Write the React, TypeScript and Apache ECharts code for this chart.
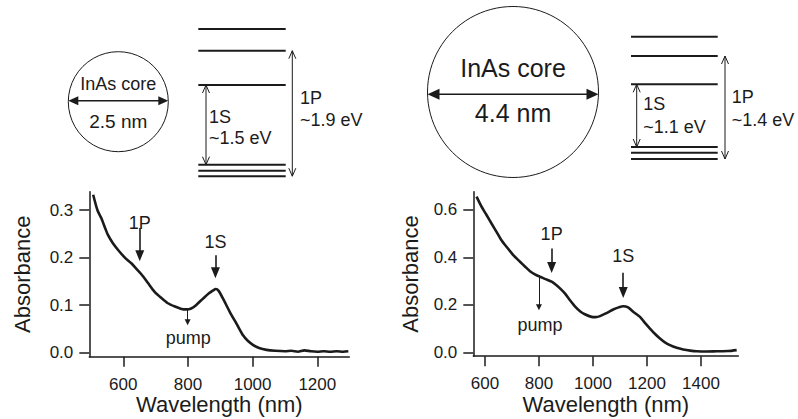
import React, { useEffect, useRef } from "react";
import * as echarts from "echarts";

// ---------- data ----------
const leftWavelength = [507, 520, 532, 545, 553, 568, 584, 605, 625, 640, 656, 676, 697, 718, 738, 760, 780, 796, 810, 825, 847, 865, 878, 886, 895, 909, 930, 951, 971, 985, 1002, 1020, 1043, 1070, 1100, 1120, 1140, 1160, 1180, 1200, 1220, 1240, 1260, 1280, 1296];
const leftAbsorbance = [0.332, 0.300, 0.283, 0.260, 0.247, 0.230, 0.216, 0.200, 0.188, 0.177, 0.165, 0.147, 0.128, 0.115, 0.104, 0.097, 0.092, 0.091, 0.093, 0.100, 0.114, 0.125, 0.131, 0.134, 0.130, 0.113, 0.085, 0.060, 0.036, 0.025, 0.016, 0.010, 0.006, 0.004, 0.003, 0.004, 0.002, 0.005, 0.003, 0.002, 0.003, 0.002, 0.003, 0.002, 0.003];

const rightWavelength = [569, 587, 606, 625, 643, 660, 680, 705, 730, 750, 767, 785, 804, 825, 847, 865, 878, 896, 915, 935, 952, 970, 995, 1010, 1026, 1050, 1075, 1095, 1112, 1130, 1149, 1174, 1190, 1211, 1230, 1248, 1265, 1285, 1310, 1334, 1360, 1384, 1420, 1458, 1500, 1532];
const rightAbsorbance = [0.656, 0.615, 0.579, 0.542, 0.508, 0.475, 0.445, 0.410, 0.382, 0.360, 0.342, 0.329, 0.319, 0.309, 0.298, 0.283, 0.270, 0.249, 0.220, 0.192, 0.174, 0.161, 0.150, 0.149, 0.153, 0.166, 0.181, 0.190, 0.195, 0.190, 0.172, 0.150, 0.128, 0.101, 0.078, 0.059, 0.044, 0.031, 0.020, 0.013, 0.008, 0.005, 0.004, 0.005, 0.006, 0.010];

const leftXTicks = [600, 800, 1000, 1200];
const leftYTicks = [0, 0.1, 0.2, 0.3];
const rightXTicks = [600, 800, 1000, 1200, 1400];
const rightYTicks = [0, 0.2, 0.4, 0.6];

// annotation arrows: [x, yStart, yEnd(head centre)]
const leftArrows = [[651, 0.262, 0.204], [885, 0.205, 0.168]];
const leftPumpArrow = [799, 0.090, 0.064];
const rightArrows = [[847, 0.438, 0.358], [1112, 0.336, 0.253]];
const rightPumpArrow = [800, 0.326, 0.191];
// annotation labels: [text, x, y]
const leftLabels: [string, number, number][] = [["1P", 651, 0.272], ["1S", 885, 0.233], ["pump", 801, 0.030]];
const rightLabels: [string, number, number][] = [["1P", 847, 0.497], ["1S", 1112, 0.406], ["pump", 804, 0.115]];

const coreSizes = ["2.5 nm", "4.4 nm"];
const gap1S = ["~1.5 eV", "~1.1 eV"];
const gap1P = ["~1.9 eV", "~1.4 eV"];

// ---------- styling ----------
const FONT = '"Liberation Sans", Arial, Helvetica, sans-serif';
const INK = "#1b1b1b";

function zip(xs: number[], ys: number[]) {
  return xs.map((x, i) => [x, ys[i]]);
}

function text(x: number, y: number, s: string, size: number, align = "left") {
  return {
    type: "text",
    x,
    y,
    style: { text: s, fontSize: size, fontFamily: FONT, fill: INK, align, verticalAlign: "middle" },
  };
}
function line(x1: number, y1: number, x2: number, y2: number, w: number) {
  return { type: "line", shape: { x1, y1, x2, y2 }, style: { stroke: INK, lineWidth: w } };
}
function hDoubleArrow(x1: number, x2: number, y: number, hl: number, hw: number) {
  return [
    line(x1 + hl - 1, y, x2 - hl + 1, y, 1.6),
    { type: "polygon", shape: { points: [[x1, y], [x1 + hl, y - hw / 2], [x1 + hl, y + hw / 2]] }, style: { fill: INK } },
    { type: "polygon", shape: { points: [[x2, y], [x2 - hl, y - hw / 2], [x2 - hl, y + hw / 2]] }, style: { fill: INK } },
  ];
}
function vOpenArrow(x: number, y1: number, y2: number) {
  return [
    line(x, y1, x, y2, 1),
    { type: "polyline", shape: { points: [[x - 3.5, y1 + 8], [x, y1], [x + 3.5, y1 + 8]] }, style: { stroke: INK, lineWidth: 1, fill: null } },
    { type: "polyline", shape: { points: [[x - 3.5, y2 - 8], [x, y2], [x + 3.5, y2 - 8]] }, style: { stroke: INK, lineWidth: 1, fill: null } },
  ];
}

function diagram(d: any, idx: number) {
  const els: any[] = [];
  els.push({ type: "circle", shape: { cx: d.cx, cy: d.cy, r: d.r }, style: { fill: "none", stroke: INK, lineWidth: 1 } });
  els.push(...hDoubleArrow(d.cx - d.r, d.cx + d.r, d.arrowY, d.hl, d.hw));
  els.push(text(d.cx, d.coreY, "InAs core", d.coreFont, "center"));
  els.push(text(d.cx, d.sizeY, coreSizes[idx], d.sizeFont, "center"));
  d.levels.forEach((y: number) => els.push(line(d.lx1, y, d.lx2, y, 2)));
  els.push(...vOpenArrow(d.sX, d.levels[2], d.levels[3]));
  els.push(...vOpenArrow(d.pX, d.levels[1], d.levels[5]));
  els.push(text(d.sTx, d.sTy1, "1S", 18));
  els.push(text(d.sTx, d.sTy2, gap1S[idx], 18));
  els.push(text(d.pTx, d.pTy1, "1P", 18));
  els.push(text(d.pTx, d.pTy2, gap1P[idx], 18));
  return els;
}

const diagramLeft = {
  cx: 118.3, cy: 101.7, r: 50, arrowY: 100.7, hl: 10, hw: 9,
  coreY: 84, coreFont: 18, sizeY: 121, sizeFont: 19,
  lx1: 198.3, lx2: 285.7, levels: [29, 50.7, 85, 164.7, 170.7, 176.2],
  sX: 206, pX: 292.3, sTx: 209, sTy1: 116.7, sTy2: 138.3, pTx: 300, pTy1: 98.3, pTy2: 120,
};
const diagramRight = {
  cx: 513, cy: 92, r: 85.5, arrowY: 94.3, hl: 12, hw: 11,
  coreY: 67.7, coreFont: 25, sizeY: 113.3, sizeFont: 25,
  lx1: 631, lx2: 717.7, levels: [36.7, 56, 84.3, 147, 152.7, 159],
  sX: 636.7, pX: 725, sTx: 643.3, sTy1: 104.3, sTy2: 126.7, pTx: 731.7, pTy1: 96.7, pTy2: 120,
};

function xAxis(gridIndex: number, min: number, max: number, ticks: number[]) {
  return {
    type: "value",
    gridIndex,
    min,
    max,
    name: "Wavelength (nm)",
    nameLocation: "middle",
    nameGap: 37,
    nameTextStyle: { fontSize: 22, fontFamily: FONT, color: INK },
    axisLine: { onZero: false, lineStyle: { color: INK, width: 1.5 } },
    axisTick: { customValues: ticks, length: 10, lineStyle: { color: INK, width: 1.5 } },
    axisLabel: { customValues: ticks, margin: 19, fontSize: 17, fontFamily: FONT, color: INK, formatter: (v: number) => String(Math.round(v)) },
    splitLine: { show: false },
  };
}
function yAxis(gridIndex: number, min: number, max: number, ticks: number[], gap: number) {
  return {
    type: "value",
    gridIndex,
    min,
    max,
    name: "Absorbance",
    nameLocation: "middle",
    nameGap: gap,
    nameRotate: 90,
    nameTextStyle: { fontSize: 22, fontFamily: FONT, color: INK },
    axisLine: { show: true, onZero: false, lineStyle: { color: INK, width: 1.5 } },
    axisTick: { show: true, customValues: ticks, length: 10, lineStyle: { color: INK, width: 1.5 } },
    axisLabel: { customValues: ticks, margin: 16, fontSize: 17, fontFamily: FONT, color: INK, formatter: (v: number) => v.toFixed(1) },
    splitLine: { show: false },
  };
}

function arrowLines(big: number[][], pump: number[]) {
  const data: any[] = big.map(([x, y1, y2]) => [
    { coord: [x, y1], symbol: "none" },
    { coord: [x, y2], symbol: "triangle", symbolSize: [9, 11], lineStyle: { width: 1.6 } },
  ]);
  data.push([
    { coord: [pump[0], pump[1]], symbol: "none" },
    { coord: [pump[0], pump[2]], symbol: "triangle", symbolSize: [6, 6], lineStyle: { width: 1 } },
  ]);
  return {
    silent: true,
    animation: false,
    symbol: ["none", "triangle"],
    label: { show: false },
    lineStyle: { color: INK, type: "solid", width: 1.6 },
    itemStyle: { color: INK },
    emphasis: { disabled: true },
    data,
  };
}
function labelPoints(labels: [string, number, number][]) {
  return {
    silent: true,
    animation: false,
    symbol: "circle",
    symbolSize: 1,
    itemStyle: { color: "rgba(0,0,0,0)" },
    label: { show: true, position: "inside", fontSize: 18, fontFamily: FONT, color: INK, formatter: (p: any) => p.name },
    data: labels.map(([t, x, y]) => ({ name: t, coord: [x, y] })),
  };
}

export default function App() {
  const ref = useRef<HTMLDivElement>(null);
  useEffect(() => {
    if (!ref.current) return;
    const chart = echarts.init(ref.current, null, { renderer: "svg" });
    chart.setOption({
      animation: false,
      backgroundColor: "#ffffff",
      grid: [
        { left: 89.3, top: 191.7, width: 260, height: 165, containLabel: false },
        { left: 473.3, top: 191.7, width: 265, height: 164.5, containLabel: false },
      ],
      xAxis: [xAxis(0, 495, 1299, leftXTicks), xAxis(1, 557, 1538, rightXTicks)],
      yAxis: [yAxis(0, -0.0084, 0.3385, leftYTicks, 56), yAxis(1, -0.0156, 0.677, rightYTicks, 52)],
      series: [
        {
          type: "line",
          xAxisIndex: 0,
          yAxisIndex: 0,
          data: zip(leftWavelength, leftAbsorbance),
          showSymbol: false,
          smooth: 0.25,
          lineStyle: { color: INK, width: 2.6 },
          markLine: arrowLines(leftArrows, leftPumpArrow),
          markPoint: labelPoints(leftLabels),
        },
        {
          type: "line",
          xAxisIndex: 1,
          yAxisIndex: 1,
          data: zip(rightWavelength, rightAbsorbance),
          showSymbol: false,
          smooth: 0.25,
          lineStyle: { color: INK, width: 2.6 },
          markLine: arrowLines(rightArrows, rightPumpArrow),
          markPoint: labelPoints(rightLabels),
        },
      ],
      graphic: [...diagram(diagramLeft, 0), ...diagram(diagramRight, 1)],
    });
    return () => chart.dispose();
  }, []);
  return <div ref={ref} style={{ position: "fixed", left: 0, top: 0, width: 798, height: 419 }} />;
}
